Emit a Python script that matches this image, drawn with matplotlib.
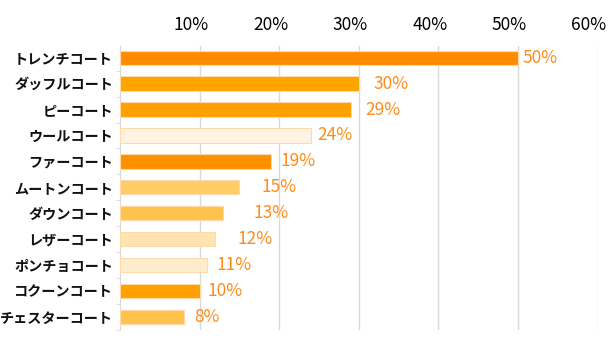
import matplotlib.pyplot as plt
import matplotlib.transforms as mtransforms
import numpy as np

plt.rcParams['font.family'] = ['Noto Sans CJK JP', 'DejaVu Sans']

# data
categories = ['トレンチコート', 'ダッフルコート', 'ピーコート', 'ウールコート', 'ファーコート',
              'ムートンコート', 'ダウンコート', 'レザーコート', 'ポンチョコート', 'コクーンコート',
              'チェスターコート']
values = [50, 30, 29, 24, 19, 15, 13, 12, 11, 10, 8]
tick_values = [10, 20, 30, 40, 50, 60]

colors = ['#FF8C00', '#FFA500', '#FF9F00', '#FFF4E2', '#FF9000', '#FFCC66',
          '#FFC34D', '#FFE4B3', '#FFECCC', '#FF9F00', '#FFC34D']
# label offsets from bar end, in pixels
label_pad = [5, 15, 15, 7, 9, 22, 30, 22, 9, 8, 11]

fig = plt.figure(figsize=(6.1, 3.41), dpi=100)
ax = fig.add_axes([120 / 610, 11 / 341, 477 / 610, 284 / 341])

y = np.arange(len(categories))
ax.barh(y, values, height=0.55, color=colors, edgecolor='#FFD9A8', linewidth=0.8, zorder=3)

for yi, v, p in zip(y, values, label_pad):
    ax.annotate(f'{v}%', xy=(v, yi), xytext=(p, 0), textcoords='offset pixels',
                va='center', ha='left', fontsize=12.5, color='#FF8C1A')

ax.set_xlim(0, 60)
ax.set_ylim(len(categories) - 0.5, -0.45)
ax.set_xticks(tick_values)
ax.set_xticklabels([f'{t}%' for t in tick_values], fontsize=12.5)
ax.xaxis.tick_top()
ax.tick_params(axis='x', length=0, pad=9)
shift = mtransforms.ScaledTranslation(-8 / 100, 0, fig.dpi_scale_trans)
for lab in ax.get_xticklabels():
    lab.set_transform(lab.get_transform() + shift)
ax.grid(axis='x', color='#D9D9D9', linewidth=1, zorder=0)

ax.set_yticks(y)
ax.set_yticklabels(categories, fontsize=10.2, fontweight='bold', color='#111111')
ax.tick_params(axis='y', length=0, pad=5)
ax.set_yticks(np.arange(len(categories)) + 0.5, minor=True)
ax.tick_params(axis='y', which='minor', length=3, color='#D9D9D9')

for s in ['top', 'right', 'bottom']:
    ax.spines[s].set_visible(False)
ax.spines['left'].set_color('#D9D9D9')

fig.savefig('out.png', dpi=100)
